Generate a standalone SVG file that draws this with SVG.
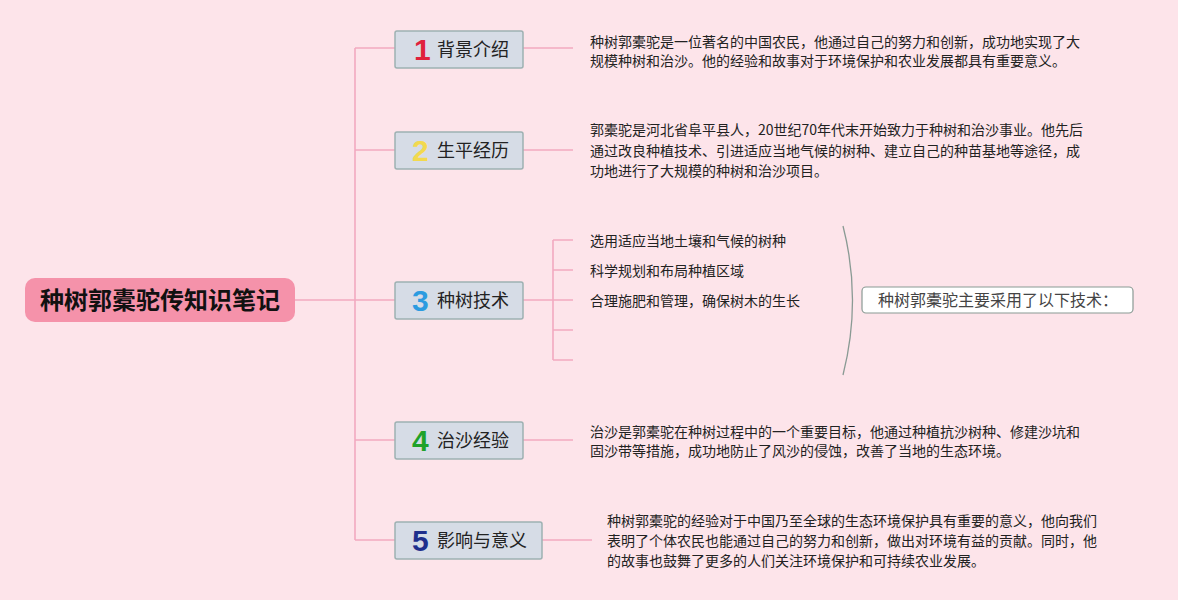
<svg xmlns="http://www.w3.org/2000/svg" width="1178" height="600" viewBox="0 0 1178 600">
<style>
text{font-family:"Noto Sans CJK SC","Noto Sans",sans-serif;}
.ln{stroke:#f2a9c0;stroke-width:1.6;fill:none;}
.node{fill:#d6dce6;stroke:#9db1b2;stroke-width:1.5;}
.num{font-size:30px;font-weight:bold;font-family:"Liberation Sans","Noto Sans",sans-serif;}
.lbl{font-size:18px;fill:#222;}
.desc{font-size:14px;fill:#222;}
</style>
<rect width="1178" height="600" fill="#fde4ea"/>
<g id="connectors">
<path class="ln" d="M295 300H355M355 48V540M355 48H395M355 150H395M355 300H395M355 440H395M355 540H395"/>
<path class="ln" d="M523 48H573M523 150H573M523 300H553M553 240V360M553 240H573M553 270H573M553 300H573M553 330H573M553 360H573M523 440H573M542 540H592"/>
<path d="M843 226Q862 300 843 375" fill="none" stroke="#8a9a94" stroke-width="1.3"/>
</g>
<g id="root">
<rect x="25" y="278" width="270" height="44" rx="10" fill="#f592aa"/>
<text x="160" y="309" text-anchor="middle" font-size="24" font-weight="bold" fill="#111">种树郭橐驼传知识笔记</text>
</g>
<g id="n1">
<rect class="node" x="395" y="31" width="128" height="37" rx="2"/>
<text class="num" x="414" y="60" fill="#e0213c">1</text>
<text class="lbl" x="437" y="56">背景介绍</text>
</g>
<g id="n2">
<rect class="node" x="395" y="132" width="128" height="37" rx="2"/>
<text class="num" x="412" y="161" fill="#f2d94e">2</text>
<text class="lbl" x="437" y="157">生平经历</text>
</g>
<g id="n3">
<rect class="node" x="395" y="282" width="128" height="37" rx="2"/>
<text class="num" x="412" y="311" fill="#2b9be0">3</text>
<text class="lbl" x="437" y="307">种树技术</text>
</g>
<g id="n4">
<rect class="node" x="395" y="422" width="128" height="37" rx="2"/>
<text class="num" x="412" y="451" fill="#1fa22a">4</text>
<text class="lbl" x="437" y="447">治沙经验</text>
</g>
<g id="n5">
<rect class="node" x="395" y="522" width="147" height="37" rx="2"/>
<text class="num" x="412" y="551" fill="#1e2f8c">5</text>
<text class="lbl" x="437" y="547">影响与意义</text>
</g>
<g id="d1">
<text class="desc" x="590" y="47">种树郭橐驼是一位著名的中国农民，他通过自己的努力和创新，成功地实现了大<tspan x="590" y="66">规模种树和治沙。他的经验和故事对于环境保护和农业发展都具有重要意义。</tspan></text>
</g>
<g id="d2">
<text class="desc" x="590" y="135">郭橐驼是河北省阜平县人，20世纪70年代末开始致力于种树和治沙事业。他先后<tspan x="590" y="156">通过改良种植技术、引进适应当地气候的树种、建立自己的种苗基地等途径，成</tspan><tspan x="590" y="176">功地进行了大规模的种树和治沙项目。</tspan></text>
</g>
<g id="d3">
<text class="desc" x="590" y="246">选用适应当地土壤和气候的树种</text>
<text class="desc" x="590" y="276">科学规划和布局种植区域</text>
<text class="desc" x="590" y="306">合理施肥和管理，确保树木的生长</text>
</g>
<g id="summary">
<rect x="862" y="287" width="271" height="26" rx="4" fill="#fff" stroke="#8a9a94" stroke-width="1.2"/>
<text x="998" y="306" text-anchor="middle" font-size="16" fill="#444">种树郭橐驼主要采用了以下技术：</text>
</g>
<g id="d4">
<text class="desc" x="590" y="437">治沙是郭橐驼在种树过程中的一个重要目标，他通过种植抗沙树种、修建沙坑和<tspan x="590" y="456">固沙带等措施，成功地防止了风沙的侵蚀，改善了当地的生态环境。</tspan></text>
</g>
<g id="d5">
<text class="desc" x="607" y="526">种树郭橐驼的经验对于中国乃至全球的生态环境保护具有重要的意义，他向我们<tspan x="607" y="546">表明了个体农民也能通过自己的努力和创新，做出对环境有益的贡献。同时，他</tspan><tspan x="607" y="566">的故事也鼓舞了更多的人们关注环境保护和可持续农业发展。</tspan></text>
</g>
</svg>
